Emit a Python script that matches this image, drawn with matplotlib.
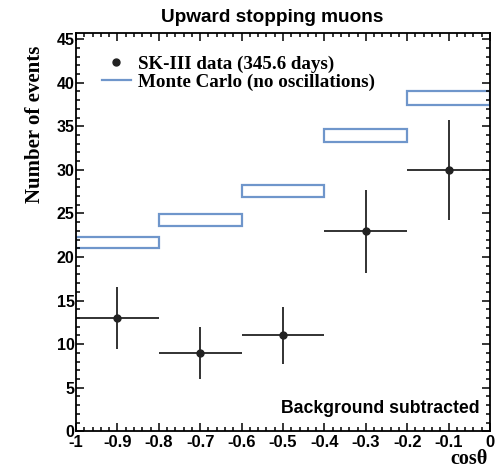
import numpy as np
import matplotlib
matplotlib.use("Agg")
from matplotlib import pyplot as plt
from matplotlib.lines import Line2D
from matplotlib.ticker import MultipleLocator

# cos(theta) binning
bin_edges = [-1.0, -0.8, -0.6, -0.4, -0.2, 0.0]
bin_centers = [-0.9, -0.7, -0.5, -0.3, -0.1]

# SK-III data with asymmetric errors
data_counts = [13, 9, 11, 23, 30]
err_up = [3.6, 3.0, 3.3, 4.7, 5.7]
err_down = [3.6, 3.0, 3.3, 4.8, 5.8]

# Monte Carlo (no oscillations) band, low/high edge per bin
mc_low = [21.0, 23.5, 26.9, 33.2, 37.4]
mc_high = [22.3, 24.9, 28.3, 34.7, 39.0]

helv = "Liberation Sans"
times = "Liberation Serif"
mc_color = "#6f96cb"
data_color = "#222222"

fig = plt.figure(figsize=(4.99, 4.68), dpi=100)
ax = fig.add_axes([76 / 499, 1 - 431.3 / 468, 414 / 499, 398.3 / 468])

widths = np.diff(bin_edges)
ax.bar(bin_edges[:-1], np.array(mc_high) - np.array(mc_low), width=widths,
       bottom=mc_low, align="edge", fill=False, edgecolor=mc_color, linewidth=1.6)

ax.errorbar(bin_centers, data_counts, yerr=[err_down, err_up], xerr=widths / 2,
            fmt="o", color=data_color, markersize=5, elinewidth=1.3, capsize=0)

ax.set_xlim(-1, 0)
ax.set_ylim(0, 45.7)
ax.xaxis.set_major_locator(MultipleLocator(0.1))
ax.xaxis.set_minor_locator(MultipleLocator(0.02))
ax.yaxis.set_major_locator(MultipleLocator(5))
ax.yaxis.set_minor_locator(MultipleLocator(1))
ax.tick_params(which="both", direction="in", top=True, right=True, width=1.1)
ax.tick_params(which="major", length=5.5)
ax.tick_params(which="minor", length=2.7)
ax.tick_params(axis="x", pad=3, labelsize=12)
ax.tick_params(axis="y", pad=1, labelsize=11.5)
ax.set_xticks(np.arange(-1, 0.01, 0.1))
ax.set_xticklabels(["-1", "-0.9", "-0.8", "-0.7", "-0.6", "-0.5",
                    "-0.4", "-0.3", "-0.2", "-0.1", "0"])
for lab in ax.get_xticklabels() + ax.get_yticklabels():
    lab.set_fontfamily(helv)
    lab.set_fontweight("bold")
for lab in ax.get_yticklabels():
    lab.set_verticalalignment("center_baseline")
for sp in ax.spines.values():
    sp.set_linewidth(1.3)

ax.set_ylabel("Number of events", fontfamily=times, fontweight="bold", fontsize=15)
ax.yaxis.set_label_coords(-0.075, 0.77)
fig.text(488 / 499, 1 - 464 / 468, "cos\u03b8", ha="right", va="baseline",
         fontfamily=times, fontweight="bold", fontsize=14.5)

fig.text(272 / 499, 1 - 17 / 468, "Upward stopping muons", ha="center", va="center",
         fontfamily=helv, fontweight="bold", fontsize=13.7)

ax.text(0.975, 0.058, "Background subtracted", transform=ax.transAxes,
        ha="right", va="center", fontfamily=helv, fontweight="bold", fontsize=12.7)

handles = [Line2D([], [], marker="o", linestyle="none", color=data_color, markersize=5),
           Line2D([], [], color=mc_color, linewidth=1.6)]
ax.legend(handles, ["SK-III data (345.6 days)", "Monte Carlo (no oscillations)"],
          loc="upper left", bbox_to_anchor=(0.04, 0.968), frameon=False,
          prop={"family": times, "weight": "bold", "size": 13.7},
          handlelength=1.5, handletextpad=0.4, labelspacing=0.05, borderpad=0)

fig.savefig("out.png", dpi=100)
